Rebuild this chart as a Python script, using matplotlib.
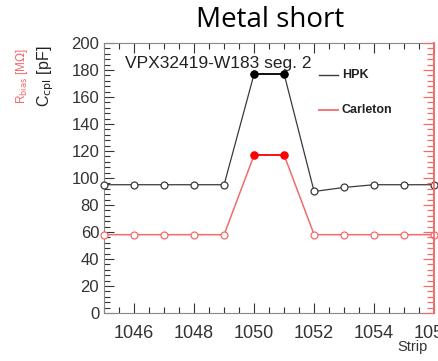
import matplotlib.pyplot as plt
from matplotlib.ticker import MultipleLocator

strips = [1045, 1046, 1047, 1048, 1049, 1050, 1051, 1052, 1053, 1054, 1055, 1056]
hpk = [95, 95, 95, 95, 95, 177, 177, 90, 93, 95, 95, 95]
carleton = [58, 58, 58, 58, 58, 117, 117, 58, 58, 58, 58, 58]
shorted = [1050, 1051]

plt.rcParams['font.family'] = ['Liberation Sans', 'DejaVu Sans']

fig = plt.figure(figsize=(4.39, 3.61), dpi=100)
ax = fig.add_axes([0.237, 0.133, 0.752, 0.748])

blk = "#3a3a3a"
red = "#f36b6b"

ax.plot(strips, hpk, color=blk, lw=0.9, marker="o", ms=5, mfc="white", mec=blk, mew=0.9, clip_on=False, zorder=3)
ax.plot(strips, carleton, color=red, lw=1.1, marker="o", ms=5, mfc="white", mec=red, mew=0.9, clip_on=False, zorder=3)
hi = [strips.index(s) for s in shorted]
ax.plot(shorted, [hpk[i] for i in hi], color="black", lw=1.2, marker="o", ms=5, ls="-", zorder=4)
ax.plot(shorted, [carleton[i] for i in hi], color="red", lw=1.2, marker="o", ms=5, ls="-", zorder=4)

ax.set_xlim(1045, 1056)
ax.set_ylim(0, 200)
ax.xaxis.set_major_locator(MultipleLocator(2))
ax.xaxis.set_minor_locator(MultipleLocator(0.5))
ax.yaxis.set_major_locator(MultipleLocator(20))
ax.yaxis.set_minor_locator(MultipleLocator(4))
ax.tick_params(which="both", direction="in", top=True, right=False, labelsize=12, colors="#333333")
ax.tick_params(which="major", length=7, width=0.8)
ax.tick_params(which="minor", length=4, width=0.8)
for s in ["left", "bottom", "top"]:
    ax.spines[s].set_color("#888888")
ax.spines["right"].set_color(red)
ax.spines["right"].set_linewidth(1.2)

ax2 = ax.twinx()
ax2.set_ylim(0, 200)
ax2.yaxis.set_major_locator(MultipleLocator(20))
ax2.yaxis.set_minor_locator(MultipleLocator(4))
ax2.tick_params(which="both", direction="in", colors=red, labelright=False)
ax2.tick_params(which="major", length=8, width=0.9)
ax2.tick_params(which="minor", length=5, width=0.9)
for s in ["left", "bottom", "top"]:
    ax2.spines[s].set_visible(False)
ax2.spines["right"].set_color(red)
ax2.spines["right"].set_linewidth(1.2)

ax.set_xticklabels([])
for v in [1046, 1048, 1050, 1052, 1054, 1056]:
    ax.text(v, -0.045, str(v), transform=ax.get_xaxis_transform(), ha="center", va="top",
            fontsize=13, color="#333333", clip_on=False)

fig.text(0.975, 0.02, "Strip", ha="right", va="bottom", fontsize=10.5, color="#333333")
fig.text(0.105, 0.79, r"C$_{\rm cpl}$ [pF]", rotation=90, ha="center", va="center", fontsize=11.5, color="#222222")
fig.text(0.05, 0.79, r"R$_{\rm bias}$ [M$\Omega$]", rotation=90, ha="center", va="center", fontsize=8.5, color=red)
fig.text(0.615, 0.945, "Metal short", ha="center", va="center", fontsize=20, color="black",
         family=["Open Sans", "DejaVu Sans"])

ax.text(0.064, 0.925, "VPX32419-W183 seg. 2", transform=ax.transAxes, ha="left", va="center",
        fontsize=12.5, color="#222222")

ax.plot([0.65, 0.71], [0.88, 0.88], transform=ax.transAxes, color=blk, lw=1)
ax.text(0.72, 0.88, "HPK", transform=ax.transAxes, ha="left", va="center", fontsize=9,
        fontweight="bold", color="#222222")
ax.plot([0.65, 0.71], [0.752, 0.752], transform=ax.transAxes, color=red, lw=1.3)
ax.text(0.72, 0.752, "Carleton", transform=ax.transAxes, ha="left", va="center", fontsize=9,
        fontweight="bold", color="#222222")

fig.savefig("out.png", dpi=100)
